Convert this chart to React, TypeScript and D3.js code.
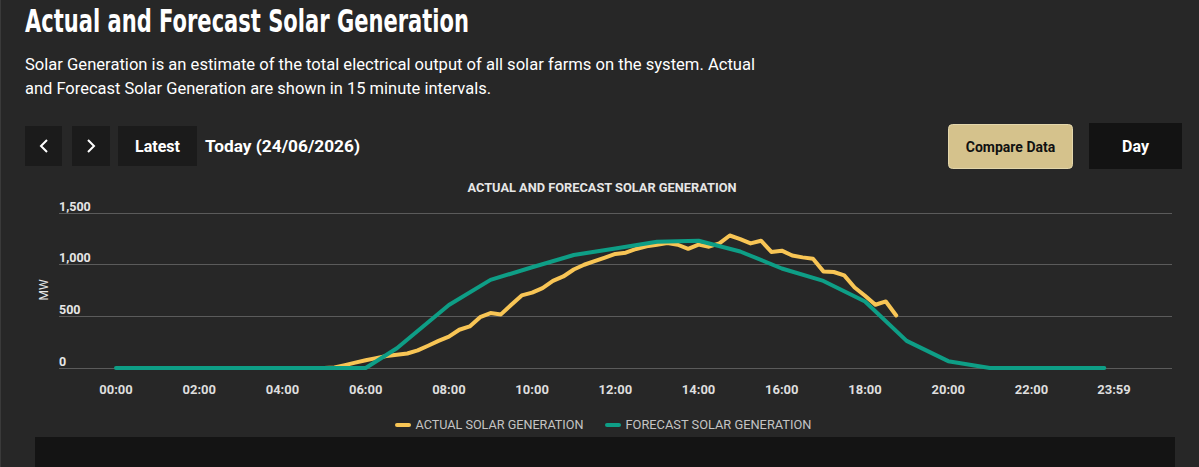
import React from "react";
import * as d3 from "d3";

// ---- data ----
const xTickLabels = ["00:00", "02:00", "04:00", "06:00", "08:00", "10:00", "12:00", "14:00", "16:00", "18:00", "20:00", "22:00", "23:59"];
const yTickValues = [0, 500, 1000, 1500];

const forecastTimes = ["00:00", "01:00", "02:00", "03:00", "04:00", "05:00", "06:00", "06:45", "08:00", "09:00", "10:00", "11:00", "12:00", "13:00", "14:00", "15:00", "16:00", "17:00", "18:00", "19:00", "20:00", "21:00", "22:00", "23:00", "23:45"];
const forecastValues = [0, 0, 0, 0, 0, 0, 0, 190, 608, 850, 972, 1090, 1153, 1217, 1228, 1124, 960, 840, 641, 262, 66, 0, 0, 0, 0];

const actualTimes = ["05:00", "05:15", "05:30", "05:45", "06:00", "06:15", "06:30", "06:45", "07:00", "07:15", "07:30", "07:45", "08:00", "08:15", "08:30", "08:45", "09:00", "09:15", "09:30", "09:45", "10:00", "10:15", "10:30", "10:45", "11:00", "11:15", "11:30", "11:45", "12:00", "12:15", "12:30", "12:45", "13:00", "13:15", "13:30", "13:45", "14:00", "14:15", "14:30", "14:45", "15:00", "15:15", "15:30", "15:45", "16:00", "16:15", "16:30", "16:45", "17:00", "17:15", "17:30", "17:45", "18:00", "18:15", "18:30", "18:45"];
const actualValues = [0, 5, 28, 52, 75, 95, 115, 128, 140, 170, 215, 262, 302, 369, 401, 490, 530, 517, 610, 700, 727, 771, 840, 883, 950, 996, 1030, 1065, 1100, 1112, 1148, 1173, 1189, 1205, 1189, 1150, 1190, 1170, 1202, 1278, 1244, 1202, 1228, 1120, 1132, 1085, 1067, 1054, 932, 926, 893, 777, 697, 610, 642, 507];

const seriesNames = ["ACTUAL SOLAR GENERATION", "FORECAST SOLAR GENERATION"];

const toMin = (s: string) => {
  const [h, m] = s.split(":").map(Number);
  return h * 60 + m;
};

const W = 1199;
const H = 467;
const BG = "#272727";
const ACTUAL = "#f8c555";
const FORECAST = "#0e9e86";

export default function App() {
  const x = d3.scaleLinear().domain([0, 1439]).range([116, 1114]);
  const y = d3.scaleLinear().domain([0, 1500]).range([368, 212.5]);
  const line = d3
    .line<{ t: number; v: number }>()
    .x((d) => x(d.t))
    .y((d) => y(d.v));

  const actual = actualTimes.map((t, i) => ({ t: toMin(t), v: actualValues[i] }));
  const forecast = forecastTimes.map((t, i) => ({ t: toMin(t), v: forecastValues[i] }));

  const font = "Roboto, 'Noto Sans', sans-serif";

  return (
    <>
      <style>{`body{margin:0;background:${BG};}`}</style>
      <svg width={W} height={H} style={{ display: "block" }}>
        <rect x={0} y={0} width={W} height={H} fill={BG} />
        <rect x={0} y={0} width={1} height={H} fill="#3a3a3a" />

        {/* header */}
        <text x={25} y={32} fill="#fff" fontFamily="'Liberation Sans Narrow', 'DejaVu Sans Condensed', sans-serif" fontWeight={700} fontSize={32} textLength={444} lengthAdjust="spacingAndGlyphs">
          Actual and Forecast Solar Generation
        </text>
        <text x={25} y={70} fill="#fff" fontFamily={font} fontSize={16} textLength={730} lengthAdjust="spacingAndGlyphs">
          Solar Generation is an estimate of the total electrical output of all solar farms on the system. Actual
        </text>
        <text x={25} y={94} fill="#fff" fontFamily={font} fontSize={16} textLength={466} lengthAdjust="spacingAndGlyphs">
          and Forecast Solar Generation are shown in 15 minute intervals.
        </text>

        {/* controls */}
        <rect x={25} y={126} width={37} height={40} fill="#1b1b1b" />
        <path d="M47,140 L41,146 L47,152" fill="none" stroke="#fff" strokeWidth={2} />
        <rect x={72} y={126} width={38} height={40} fill="#1b1b1b" />
        <path d="M88,140 L94,146 L88,152" fill="none" stroke="#fff" strokeWidth={2} />
        <rect x={118} y={126} width={79} height={40} fill="#1b1b1b" />
        <text x={157.5} y={152} textAnchor="middle" fill="#fff" fontFamily={font} fontWeight={700} fontSize={16}>
          Latest
        </text>
        <text x={205} y={152} fill="#fff" fontFamily={font} fontWeight={700} fontSize={16} textLength={155} lengthAdjust="spacingAndGlyphs">
          Today (24/06/2026)
        </text>

        <rect x={948.5} y={124.5} width={124} height={44} rx={4} fill="#d5c28c" stroke="#e3d6ab" />
        <text x={1010.5} y={152} textAnchor="middle" fill="#111" fontFamily={font} fontWeight={700} fontSize={14}>
          Compare Data
        </text>
        <rect x={1089} y={123} width={93} height={46} fill="#131313" />
        <text x={1135.5} y={152} textAnchor="middle" fill="#fff" fontFamily={font} fontWeight={700} fontSize={16}>
          Day
        </text>

        {/* chart title */}
        <text x={602} y={192} textAnchor="middle" fill="#e6e6e6" fontFamily={font} fontWeight={700} fontSize={12} textLength={269} lengthAdjust="spacingAndGlyphs">
          ACTUAL AND FORECAST SOLAR GENERATION
        </text>

        {/* grid + y labels */}
        {yTickValues.map((v) => (
          <g key={v}>
            <line x1={59} x2={1172} y1={Math.round(y(v)) + 0.5} y2={Math.round(y(v)) + 0.5} stroke="#5b5b5b" strokeWidth={1} />
            <text x={59} y={y(v) - 2} fill="#e6e6e6" fontFamily={font} fontWeight={700} fontSize={12.5}>
              {d3.format(",")(v)}
            </text>
          </g>
        ))}
        <text transform="translate(48,290) rotate(-90)" textAnchor="middle" fill="#e6e6e6" fontFamily={font} fontSize={12}>
          MW
        </text>

        {/* x labels */}
        {xTickLabels.map((l) => (
          <text key={l} x={x(toMin(l))} y={394} textAnchor="middle" fill="#dedede" fontFamily={font} fontWeight={700} fontSize={13}>
            {l}
          </text>
        ))}

        {/* series */}
        <path d={line(actual) || ""} fill="none" stroke={ACTUAL} strokeWidth={4} strokeLinejoin="round" strokeLinecap="round" />
        <path d={line(forecast) || ""} fill="none" stroke={FORECAST} strokeWidth={4} strokeLinejoin="round" strokeLinecap="round" />

        {/* legend */}
        <line x1={397} x2={409} y1={425} y2={425} stroke={ACTUAL} strokeWidth={4} strokeLinecap="round" />
        <text x={415.5} y={429} fill="#c4c4c4" fontFamily={font} fontSize={12} textLength={168} lengthAdjust="spacingAndGlyphs">
          {seriesNames[0]}
        </text>
        <line x1={607} x2={619} y1={425} y2={425} stroke={FORECAST} strokeWidth={4} strokeLinecap="round" />
        <text x={625.5} y={429} fill="#c4c4c4" fontFamily={font} fontSize={12} textLength={186} lengthAdjust="spacingAndGlyphs">
          {seriesNames[1]}
        </text>

        {/* bottom panel */}
        <rect x={35} y={437} width={1140} height={H - 437} fill="#141414" />
      </svg>
    </>
  );
}
